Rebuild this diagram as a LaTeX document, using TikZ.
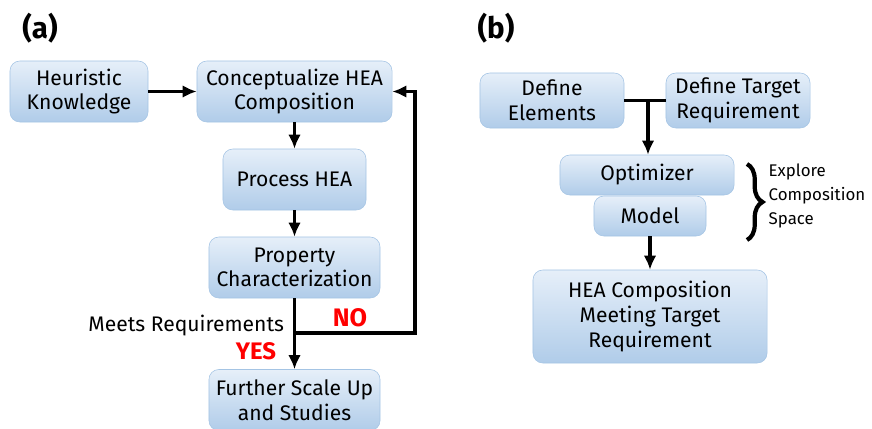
\documentclass[tikz,border=0pt]{standalone}
\usepackage{fontspec}
\setmainfont{Fira Sans}
\usepackage{tikz}
\usetikzlibrary{arrows.meta, decorations.pathreplacing}

\definecolor{boxtop}{HTML}{E6EFF9}
\definecolor{boxbot}{HTML}{B0CCE9}
\definecolor{boxline}{HTML}{A4C4E4}

\begin{document}
\begin{tikzpicture}[x=0.025cm, y=-0.025cm,
                    every node/.style={align=center, font=\fontsize{15}{17.5}\selectfont},
                    hbox/.style={draw=boxline, rounded corners=7pt, top color=boxtop, bottom color=boxbot, minimum height=1.525cm},
                    flow/.style={line width=2.2pt, -{Latex[length=10pt, width=9pt]}},
                    bar/.style={line width=2.2pt}]
    \useasboundingbox (0,0) rectangle (872,428);
    % Panel (a)
    \node[font=\fontsize{21}{24}\selectfont\bfseries] (labela) at (40,28) {(a)};
    \node[hbox, minimum width=3.45cm] (heur) at (79,91.5) {Heuristic\\Knowledge};
    \node[hbox, minimum width=4.875cm] (concept) at (294.5,91.5) {Conceptualize HEA\\Composition};
    \node[hbox, minimum width=3.575cm] (process) at (294.5,179.5) {Process HEA};
    \node[hbox, minimum width=4.275cm] (prop) at (294.5,267.5) {Property\\Characterization};
    \node[hbox, minimum width=4.275cm] (further) at (294.5,400) {Further Scale Up\\and Studies};
    \coordinate (split) at (294.5,333);
    \coordinate (back) at (415,333);
    \draw[flow] (heur) -- (concept);
    \draw[flow] (concept) -- (process);
    \draw[flow] (process) -- (prop);
    \draw[flow] (prop) -- (further);
    \draw[flow] (split) -- (back) |- (concept.east);
    \node[anchor=east] (meets) at (289,326) {Meets Requirements};
    \node[text=red, font=\fontsize{18}{20}\selectfont\bfseries] (no) at (350,318) {NO};
    \node[text=red, font=\fontsize{17}{20}\selectfont\bfseries] (yes) at (256,351) {YES};
    % Panel (b)
    \node[font=\fontsize{21}{24}\selectfont\bfseries] (labelb) at (496,28) {(b)};
    \node[hbox, minimum width=3.6cm, minimum height=1.375cm] (elem) at (552,100.5) {Define\\Elements};
    \node[hbox, minimum width=3.6cm, minimum height=1.375cm] (target) at (738,100.5) {Define Target\\Requirement};
    \node[hbox, minimum width=4.35cm, minimum height=1cm] (opt) at (647,175) {Optimizer};
    \node[hbox, minimum width=2.8cm, minimum height=1cm] (model) at (650,216) {Model};
    \node[hbox, minimum width=5.85cm, minimum height=2.325cm] (result) at (650,316.5) {HEA Composition\\Meeting Target\\Requirement};
    \coordinate (join) at (648,100.5);
    \draw[bar] (elem.east) -- (target.west);
    \draw[flow] (join) -- (join |- opt.north);
    \draw[flow] (model) -- (result);
    \draw[decorate, decoration={brace, amplitude=11pt}, line width=3pt] (747,164) -- (747,240);
    \node[anchor=west, align=left, inner sep=1pt, font=\fontsize{12}{17.2}\selectfont] (explore) at (767,196) {Explore\\Composition\\Space};
\end{tikzpicture}
\end{document}
